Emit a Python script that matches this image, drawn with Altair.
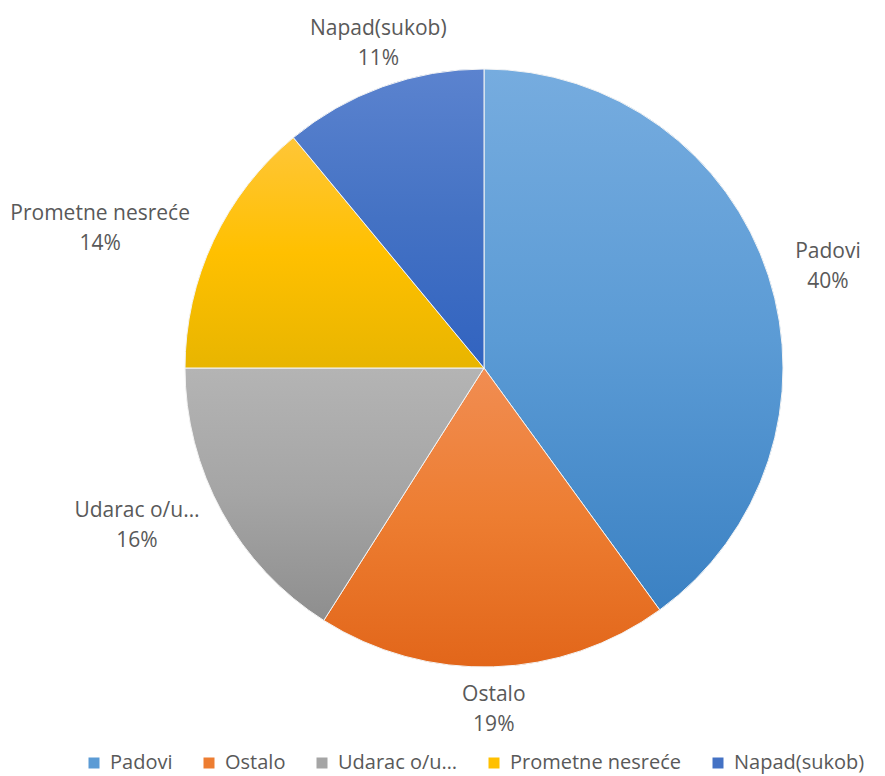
import altair as alt
import pandas as pd

categories = ["Padovi", "Ostalo", "Udarac o/u…", "Prometne nesreće", "Napad(sukob)"]
values = [40, 19, 16, 14, 11]

base_colors = ["#5B9BD5", "#ED7D31", "#A5A5A5", "#FFC000", "#4472C4"]
top_colors = ["#76acdf", "#f18d52", "#b4b4b4", "#ffc638", "#5b83cf"]
bottom_colors = ["#3b81c3", "#e2661a", "#8e8e8e", "#e8b500", "#3163c0"]

df = pd.DataFrame({"name": categories, "value": values, "order": list(range(len(categories)))})

CX, CY, R = 476, 360, 299
theta_scale = alt.Scale(domain=[0, 100], range=[0, 6.283185307179586])

base = alt.Chart(df).transform_stack(
    stack="value", as_=["start", "end"], groupby=[], sort=[alt.SortField("order")]
)

# solid layer (also provides the legend)
solid = base.mark_arc(radius=R, stroke="white", strokeWidth=1).encode(
    theta=alt.Theta("start:Q", scale=theta_scale),
    theta2="end:Q",
    x=alt.value(CX),
    y=alt.value(CY),
    color=alt.Color(
        "name:N",
        scale=alt.Scale(domain=categories, range=base_colors),
        sort=categories,
        legend=alt.Legend(
            title=None,
            orient="none",
            direction="horizontal",
            legendX=76,
            legendY=745,
            symbolType="square",
            symbolSize=121,
            symbolStrokeWidth=0,
            labelFontSize=20,
            labelFont="Open Sans",
            labelColor="#595959",
            labelOffset=6,
            columnPadding=26,
            labelLimit=300,
            padding=0,
            columns=5,
        ),
    ),
)

layers = [solid]
for i, cat in enumerate(categories):
    grad = alt.Gradient(
        gradient="linear",
        stops=[
            alt.GradientStop(color=top_colors[i], offset=0),
            alt.GradientStop(color=base_colors[i], offset=0.5),
            alt.GradientStop(color=bottom_colors[i], offset=1),
        ],
        x1=0, x2=0, y1=0, y2=1,
    )
    layer = base.transform_filter(alt.datum.name == cat).mark_arc(
        radius=R, color=grad, stroke="#f4f4f4", strokeWidth=1
    ).encode(
        theta=alt.Theta("start:Q", scale=theta_scale),
        theta2="end:Q",
        x=alt.value(CX),
        y=alt.value(CY),
    )
    layers.append(layer)

# Excel-like "best fit" outside labels: anchor the label box on the side facing the pie
labels = base.transform_calculate(
    ang="(datum.start + datum.end) / 200 * 2 * PI",
).transform_calculate(
    s="sin(datum.ang)",
    c="cos(datum.ang)",
    hw="5.5 * length(datum.name)",
).transform_calculate(
    side="abs(datum.s) >= abs(datum.c)",
).transform_calculate(
    rr="datum.side ? 327 : 312",
).transform_calculate(
    px=f"{CX} + datum.rr * datum.s + (datum.side ? (datum.s >= 0 ? 1 : -1) * datum.hw : 0)",
    py=f"{CY} - datum.rr * datum.c + (datum.side ? 0 : (datum.c >= 0 ? -30 : 30))",
    lbl="datum.name + '\\n' + datum.value + '%'",
).mark_text(
    lineBreak="\n", fontSize=21, lineHeight=30, color="#595959", font="Open Sans",
    align="center", baseline="middle", dy=-15,
).encode(
    x=alt.X("px:Q", scale=None, axis=None),
    y=alt.Y("py:Q", scale=None, axis=None),
    text="lbl:N",
)
layers.append(labels)

chart = alt.layer(*layers).properties(
    width=869, height=768, padding=0,
    autosize=alt.AutoSizeParams(type="none"),
).configure_view(stroke=None)

chart.save("out.html", embed_options={"renderer": "svg", "actions": False})
